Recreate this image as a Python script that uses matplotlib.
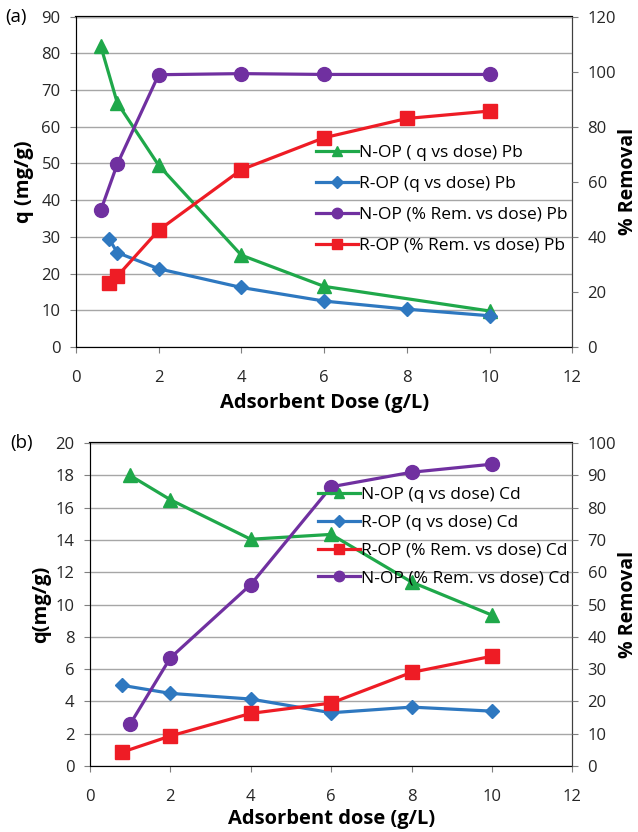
import matplotlib
matplotlib.use("Agg")
import matplotlib.pyplot as plt

plt.rcParams['font.family'] = ['Open Sans', 'DejaVu Sans']

# panel (a) - Pb
pb_nop_q_dose = [0.6, 1, 2, 4, 6, 10]
pb_nop_q = [82, 66.5, 49.5, 25, 16.5, 9.8]
pb_rop_q_dose = [0.8, 1, 2, 4, 6, 8, 10]
pb_rop_q = [29.5, 25.7, 21.3, 16.2, 12.5, 10.3, 8.5]
pb_nop_rem_dose = [0.6, 1, 2, 4, 6, 10]
pb_nop_rem = [49.6, 66.4, 98.9, 99.3, 99.0, 99.0]
pb_rop_rem_dose = [0.8, 1, 2, 4, 6, 8, 10]
pb_rop_rem = [23.3, 25.7, 42.4, 64.4, 76.0, 83.0, 85.7]

# panel (b) - Cd
cd_nop_q_dose = [1, 2, 4, 6, 8, 10]
cd_nop_q = [18.0, 16.5, 14.05, 14.35, 11.4, 9.35]
cd_rop_q_dose = [0.8, 2, 4, 6, 8, 10]
cd_rop_q = [5.0, 4.5, 4.15, 3.3, 3.65, 3.4]
cd_rop_rem_dose = [0.8, 2, 4, 6, 8, 10]
cd_rop_rem = [4.3, 9.3, 16.3, 19.5, 29.0, 34.0]
cd_nop_rem_dose = [1, 2, 4, 6, 8, 10]
cd_nop_rem = [13.0, 33.5, 56.2, 86.5, 91.0, 93.5]

GREEN = '#1fa84a'
BLUE = '#2e78c0'
PURPLE = '#7030a0'
RED = '#ee1c25'
TICK_FS = 12
LEG_FS = 12.5
LAB_FS = 14.5


def style_axes(ax, ax2):
    ax.grid(axis='y', color='#a6a6a6', lw=1)
    ax.set_axisbelow(True)
    for s in ['left', 'bottom', 'right']:
        ax.spines[s].set_color('#404040')
    ax.spines['top'].set_color('black')
    ax.spines['top'].set_linewidth(1.6)
    for a in (ax, ax2):
        a.tick_params(labelsize=TICK_FS, color='#7f7f7f', length=4,
                      direction='out', colors='#262626')
        a.tick_params(axis='y', pad=7)
        for s in a.spines.values():
            s.set_zorder(0)
    ax.tick_params(axis='x', pad=12.5)
    ax2.spines['right'].set_color('#404040')
    ax2.spines['top'].set_visible(False)
    ax.set_xlim(0, 12)
    ax.set_xticks(range(0, 13, 2))


fig = plt.figure(figsize=(6.38, 8.32), dpi=100)

# ---- panel (a)
ax = fig.add_axes([0.119, 0.583, 0.778, 0.397])
ax2 = ax.twinx()
l1, = ax.plot(pb_nop_q_dose, pb_nop_q, color=GREEN, lw=2.3, marker='^', ms=10,
              label='N-OP ( q vs dose) Pb')
l2, = ax.plot(pb_rop_q_dose, pb_rop_q, color=BLUE, lw=2.3, marker='D', ms=7.5,
              label='R-OP (q vs dose) Pb')
l3, = ax2.plot(pb_nop_rem_dose, pb_nop_rem, color=PURPLE, lw=2.3, marker='o', ms=10,
               label='N-OP (% Rem. vs dose) Pb')
l4, = ax2.plot(pb_rop_rem_dose, pb_rop_rem, color=RED, lw=2.3, marker='s', ms=9.5,
               label='R-OP (% Rem. vs dose) Pb')
ax.set_ylim(0, 90)
ax.set_yticks(range(0, 91, 10))
ax2.set_ylim(0, 120)
ax2.set_yticks(range(0, 121, 20))
style_axes(ax, ax2)
ax.set_ylabel('q (mg/g)', fontsize=LAB_FS, fontweight='bold', labelpad=5)
ax2.set_ylabel('% Removal', fontsize=14, fontweight='bold', labelpad=1)
ax.set_xlabel('Adsorbent Dose (g/L)', fontsize=LAB_FS, fontweight='bold', labelpad=5)
ax2.legend(handles=[l1, l2, l3, l4], frameon=False, fontsize=LEG_FS, loc='upper left',
           bbox_to_anchor=(316 / 638, 1 - 145 / 832), bbox_transform=fig.transFigure,
           handlelength=2.4, labelspacing=0.85, handletextpad=0.1, borderpad=0,
           borderaxespad=0, markerscale=0.75)
fig.text(5 / 638, 1 - 17 / 832, '(a)', fontsize=13.5, va='center', ha='left')

# ---- panel (b)
bx = fig.add_axes([0.141, 0.0793, 0.756, 0.388])
bx2 = bx.twinx()
m1, = bx.plot(cd_nop_q_dose, cd_nop_q, color=GREEN, lw=2.3, marker='^', ms=10,
              label='N-OP (q vs dose) Cd')
m2, = bx.plot(cd_rop_q_dose, cd_rop_q, color=BLUE, lw=2.3, marker='D', ms=7.5,
              label='R-OP (q vs dose) Cd')
m3, = bx2.plot(cd_rop_rem_dose, cd_rop_rem, color=RED, lw=2.3, marker='s', ms=9.5,
               label='R-OP (% Rem. vs dose) Cd')
m4, = bx2.plot(cd_nop_rem_dose, cd_nop_rem, color=PURPLE, lw=2.3, marker='o', ms=10,
               label='N-OP (% Rem. vs dose) Cd')
bx.set_ylim(0, 20)
bx.set_yticks(range(0, 21, 2))
bx2.set_ylim(0, 100)
bx2.set_yticks(range(0, 101, 10))
style_axes(bx, bx2)
bx.set_ylabel('q(mg/g)', fontsize=LAB_FS, fontweight='bold', labelpad=3)
bx2.set_ylabel('% Removal', fontsize=14, fontweight='bold', labelpad=1)
bx.set_xlabel('Adsorbent dose (g/L)', fontsize=LAB_FS, fontweight='bold', labelpad=3)
bx2.legend(handles=[m1, m2, m3, m4], frameon=False, fontsize=LEG_FS, loc='upper left',
           bbox_to_anchor=(318 / 638, 1 - 487 / 832), bbox_transform=fig.transFigure,
           handlelength=2.4, labelspacing=0.67, handletextpad=0.1, borderpad=0,
           borderaxespad=0, markerscale=0.75)
fig.text(10 / 638, 1 - 443 / 832, '(b)', fontsize=13.5, va='center', ha='left')

fig.savefig('out.png', dpi=100)
